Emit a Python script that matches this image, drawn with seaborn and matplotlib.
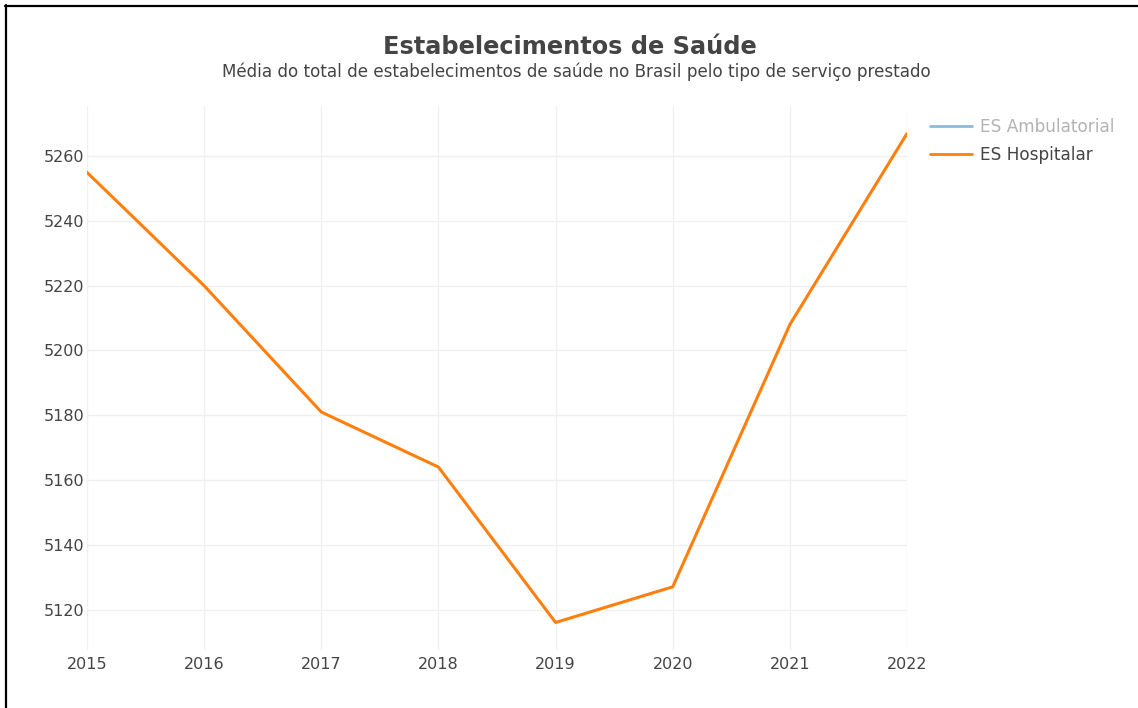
import numpy as np
import pandas as pd
import seaborn as sns
import matplotlib.pyplot as plt
from matplotlib.lines import Line2D

# data
anos = [2015, 2016, 2017, 2018, 2019, 2020, 2021, 2022]
es_hospitalar = [5255, 5220, 5181, 5164, 5116, 5127, 5208, 5267]
yticks = [5120, 5140, 5160, 5180, 5200, 5220, 5240, 5260]
series = ["ES Ambulatorial", "ES Hospitalar"]

df = pd.DataFrame({"ano": anos, "valor": es_hospitalar})

sns.set_style("white")
plt.rcParams["font.family"] = ["DejaVu Sans"]

W, H = 1138, 708
fig = plt.figure(figsize=(W / 100, H / 100), dpi=100)
ax = fig.add_axes([87 / W, 1 - 650 / H, (907 - 87) / W, (650 - 106) / H])

sns.lineplot(data=df, x="ano", y="valor", color="#ff7f0e", linewidth=2.2, ax=ax)

ax.set_xlim(2015, 2022)
ax.set_ylim(5107.5, 5275.5)
ax.set_xticks(anos)
ax.set_yticks(yticks)
ax.set_xlabel("")
ax.set_ylabel("")
ax.grid(True, color="#f0f0f0", linewidth=1)
for s in ax.spines.values():
    s.set_visible(False)
ax.tick_params(axis="both", length=0, labelsize=11.5, labelcolor="#444444")
ax.tick_params(axis="y", pad=2)
ax.tick_params(axis="x", pad=5)

fig.text(0.5 + 1 / W, 1 - 47 / H, "Estabelecimentos de Saúde", ha="center", va="center",
         fontsize=17.3, fontweight="bold", color="#444444")
fig.text(0.5 + 7 / W, 1 - 72 / H,
         "Média do total de estabelecimentos de saúde no Brasil pelo tipo de serviço prestado",
         ha="center", va="center", fontsize=12.1, color="#444444")

handles = [Line2D([], [], color="#8fbbd9", linewidth=2),
           Line2D([], [], color="#ff7f0e", linewidth=2)]
leg = fig.legend(handles, series, loc="upper left", bbox_to_anchor=(930 / W, 1 - 118 / H),
                 frameon=False, fontsize=12.2, handlelength=2.5, handletextpad=0.45,
                 labelspacing=0.57, borderpad=0, borderaxespad=0)
leg.get_texts()[0].set_color("#b3b3b3")
leg.get_texts()[1].set_color("#444444")

# moldura do print
fig.add_artist(Line2D([5 / W, 1], [1 - 6 / H, 1 - 6 / H], color="black", linewidth=1.6,
                      transform=fig.transFigure))
fig.add_artist(Line2D([6 / W, 6 / W], [0, 1 - 5 / H], color="black", linewidth=1.6,
                      transform=fig.transFigure))

fig.savefig("out.png", dpi=100)
